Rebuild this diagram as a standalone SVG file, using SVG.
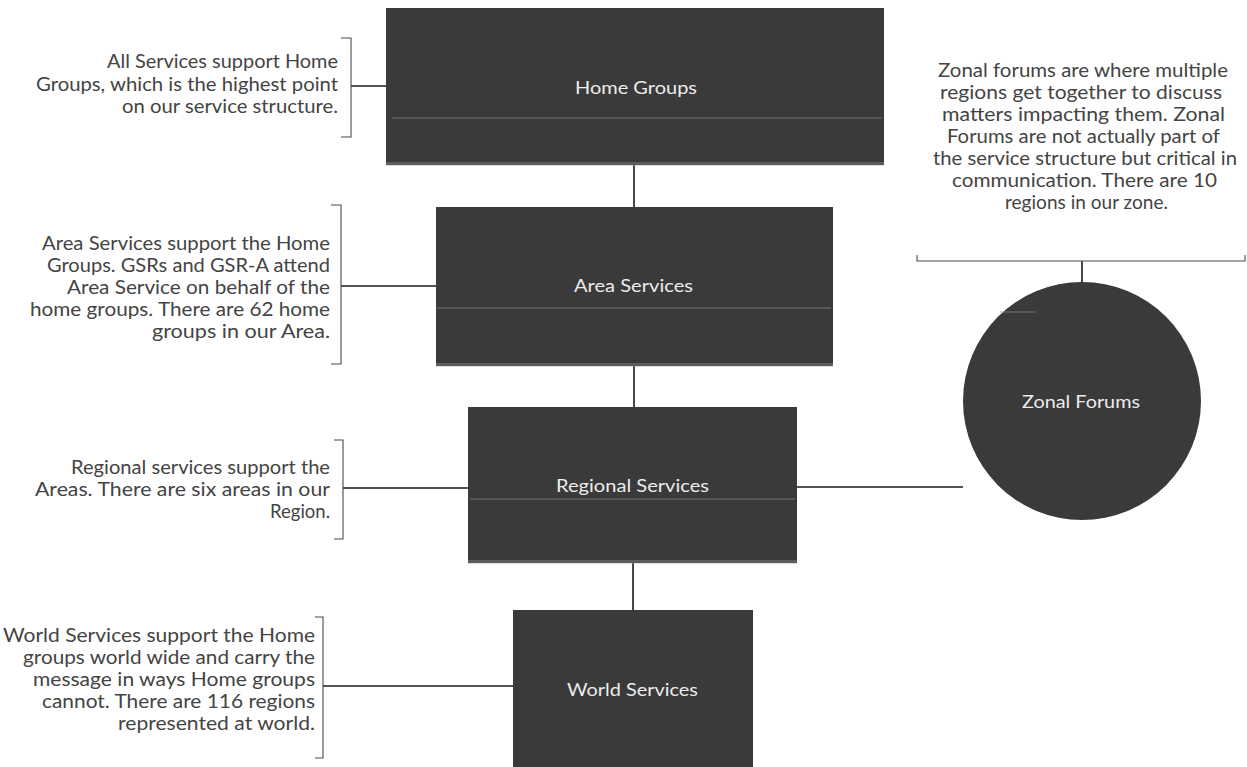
<svg xmlns="http://www.w3.org/2000/svg" width="1247" height="767" viewBox="0 0 1247 767">
  <style>
    .box { fill: #3a3a3a; }
    .edge { fill: #a0a0a0; opacity: 0.35; }
    .streak { stroke: #8c8c8c; stroke-width: 1; opacity: 0.7; }
    .label { font-family: Lato, "Open Sans", "Liberation Sans", sans-serif; font-size: 18px; fill: #ececec; }
    .note { font-family: Lato, "Open Sans", "Liberation Sans", sans-serif; font-size: 18.5px; fill: #444444; }
    .conn { stroke: #1a1a1a; stroke-width: 1.6; fill: none; }
    .brk { stroke: #4a4a4a; stroke-width: 1.1; fill: none; }
  </style>
  <rect width="1247" height="767" fill="#ffffff"/>

  <g id="connectors">
    <line class="conn" x1="634" y1="165" x2="634" y2="207"/>
    <line class="conn" x1="634" y1="366" x2="634" y2="407"/>
    <line class="conn" x1="633" y1="563" x2="633" y2="610"/>
    <line class="conn" x1="797" y1="487" x2="963" y2="487"/>
    <line class="conn" x1="1082" y1="261" x2="1082" y2="282"/>
    <line class="conn" x1="351" y1="86" x2="386" y2="86"/>
    <line class="conn" x1="341" y1="286" x2="436" y2="286"/>
    <line class="conn" x1="343" y1="488" x2="468" y2="488"/>
    <line class="conn" x1="323" y1="686" x2="513" y2="686"/>
  </g>

  <g id="home-groups">
    <rect class="box" x="386" y="8" width="498" height="157"/>
    <rect class="edge" x="386" y="162" width="498" height="4"/>
    <line class="streak" x1="392" y1="118" x2="882" y2="118"/>
    <text class="label" x="575" y="94" textLength="122" lengthAdjust="spacingAndGlyphs">Home Groups</text>
  </g>

  <g id="area-services">
    <rect class="box" x="436" y="207" width="397" height="159"/>
    <rect class="edge" x="436" y="363" width="397" height="4"/>
    <line class="streak" x1="437" y1="308" x2="831" y2="308"/>
    <text class="label" x="574" y="292" textLength="119" lengthAdjust="spacingAndGlyphs">Area Services</text>
  </g>

  <g id="regional-services">
    <rect class="box" x="468" y="407" width="329" height="156"/>
    <rect class="edge" x="468" y="560" width="329" height="4"/>
    <line class="streak" x1="470" y1="499" x2="795" y2="499"/>
    <text class="label" x="556" y="492" textLength="153" lengthAdjust="spacingAndGlyphs">Regional Services</text>
  </g>

  <g id="world-services">
    <rect class="box" x="513" y="610" width="240" height="157"/>
    <text class="label" x="567" y="696" textLength="131" lengthAdjust="spacingAndGlyphs">World Services</text>
  </g>

  <g id="zonal-forums">
    <circle class="box" cx="1082" cy="401" r="119"/>
    <line class="streak" x1="1000" y1="312" x2="1036" y2="312"/>
    <text class="label" x="1022" y="408" textLength="118" lengthAdjust="spacingAndGlyphs">Zonal Forums</text>
  </g>

  <g id="note-home">
    <path class="brk" d="M341 38 H351 V137 H341"/>
    <text class="note" x="107" y="68" textLength="231" lengthAdjust="spacingAndGlyphs">All Services support Home</text>
    <text class="note" x="36" y="90.5" textLength="302" lengthAdjust="spacingAndGlyphs">Groups, which is the highest point</text>
    <text class="note" x="122" y="113" textLength="216" lengthAdjust="spacingAndGlyphs">on our service structure.</text>
  </g>

  <g id="note-area">
    <path class="brk" d="M331 205 H341 V364 H331"/>
    <text class="note" x="42" y="250" textLength="288" lengthAdjust="spacingAndGlyphs">Area Services support the Home</text>
    <text class="note" x="47" y="272" textLength="283" lengthAdjust="spacingAndGlyphs">Groups. GSRs and GSR-A attend</text>
    <text class="note" x="67" y="294" textLength="263" lengthAdjust="spacingAndGlyphs">Area Service on behalf of the</text>
    <text class="note" x="30" y="316" textLength="300" lengthAdjust="spacingAndGlyphs">home groups. There are 62 home</text>
    <text class="note" x="152" y="338" textLength="178" lengthAdjust="spacingAndGlyphs">groups in our Area.</text>
  </g>

  <g id="note-regional">
    <path class="brk" d="M334 440 H343 V539 H334"/>
    <text class="note" x="71" y="474" textLength="259" lengthAdjust="spacingAndGlyphs">Regional services support the</text>
    <text class="note" x="35" y="496" textLength="295" lengthAdjust="spacingAndGlyphs">Areas.  There are six areas in our</text>
    <text class="note" x="270" y="518" textLength="60" lengthAdjust="spacingAndGlyphs">Region.</text>
  </g>

  <g id="note-world">
    <path class="brk" d="M315 617 H323 V758 H315"/>
    <text class="note" x="3" y="642" textLength="312" lengthAdjust="spacingAndGlyphs">World Services support the Home</text>
    <text class="note" x="23" y="664" textLength="292" lengthAdjust="spacingAndGlyphs">groups world wide and carry the</text>
    <text class="note" x="33" y="686" textLength="282" lengthAdjust="spacingAndGlyphs">message in ways Home groups</text>
    <text class="note" x="42" y="708" textLength="273" lengthAdjust="spacingAndGlyphs">cannot. There are 116 regions</text>
    <text class="note" x="118" y="730" textLength="197" lengthAdjust="spacingAndGlyphs">represented at world.</text>
  </g>

  <g id="note-zonal">
    <path class="brk" d="M917 255 V261 H1245 V255"/>
    <text class="note" x="938" y="77" textLength="290" lengthAdjust="spacingAndGlyphs">Zonal forums are where multiple</text>
    <text class="note" x="940" y="99" textLength="282" lengthAdjust="spacingAndGlyphs">regions get together to discuss</text>
    <text class="note" x="942" y="121" textLength="283" lengthAdjust="spacingAndGlyphs">matters impacting them. Zonal</text>
    <text class="note" x="947" y="143" textLength="273" lengthAdjust="spacingAndGlyphs">Forums are not actually part of</text>
    <text class="note" x="933" y="165" textLength="304" lengthAdjust="spacingAndGlyphs">the service structure but critical in</text>
    <text class="note" x="952" y="187" textLength="265" lengthAdjust="spacingAndGlyphs">communication. There are 10</text>
    <text class="note" x="1005" y="209" textLength="163" lengthAdjust="spacingAndGlyphs">regions in our zone.</text>
  </g>
</svg>
